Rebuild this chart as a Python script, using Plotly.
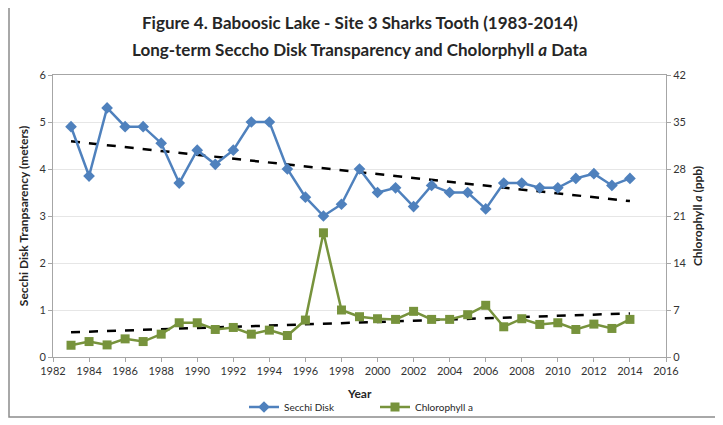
import plotly.graph_objects as go
import numpy as np

years = list(range(1983, 2015))
secchi = [4.9, 3.85, 5.3, 4.9, 4.9, 4.55, 3.7, 4.4, 4.1, 4.4, 5.0, 5.0, 4.0, 3.4, 3.0, 3.25,
          4.0, 3.5, 3.6, 3.2, 3.65, 3.5, 3.5, 3.15, 3.7, 3.7, 3.6, 3.6, 3.8, 3.9, 3.65, 3.8]
chlorophyll = [1.75, 2.3, 1.8, 2.7, 2.3, 3.4, 5.1, 5.1, 4.1, 4.4, 3.4, 4.0, 3.2, 5.5, 18.5, 7.0,
               6.0, 5.7, 5.6, 6.8, 5.6, 5.6, 6.3, 7.7, 4.5, 5.7, 4.85, 5.1, 4.1, 4.9, 4.25, 5.6]

title_lines = ['Figure 4. Baboosic Lake - Site 3 Sharks Tooth (1983-2014)',
               'Long-term Seccho Disk Transparency and Cholorphyll <i>a</i> Data']

blue = '#4F81BD'
green = '#77933C'
font = 'Lato'

# linear trendlines like Excel
s_fit = np.polyfit(years, secchi, 1)
c_fit = np.polyfit(years, chlorophyll, 1)
s_trend = np.polyval(s_fit, years)
c_trend = np.polyval(c_fit, years)

fig = go.Figure()
fig.add_trace(go.Scatter(x=years, y=s_trend, mode='lines', showlegend=False,
                         line=dict(color='black', width=2.5, dash='dash'), yaxis='y'))
fig.add_trace(go.Scatter(x=years, y=c_trend, mode='lines', showlegend=False,
                         line=dict(color='black', width=2.5, dash='dash'), yaxis='y2'))
fig.add_trace(go.Scatter(name='Secchi Disk', x=years, y=secchi, mode='lines+markers',
                         line=dict(color=blue, width=2.5),
                         marker=dict(symbol='diamond', size=9, color=blue), yaxis='y'))
fig.add_trace(go.Scatter(name='Chlorophyll a', x=years, y=chlorophyll, mode='lines+markers',
                         line=dict(color=green, width=2.5),
                         marker=dict(symbol='square', size=9, color=green), yaxis='y2'))

# page body has an 8px margin, so the figure is 8px smaller and offset
W, H = 715, 417
axis_line = '#A6A6A6'
fig.update_layout(
    width=W, height=H,
    margin=dict(l=45, r=57, t=67, b=68, autoexpand=False),
    paper_bgcolor='white', plot_bgcolor='white',
    font=dict(family=font, size=11, color='#333333'),
    xaxis=dict(range=[1982, 2016], dtick=2, tick0=1982, showgrid=False, zeroline=False,
               showline=True, linecolor=axis_line, mirror=True,
               ticks='outside', ticklen=4, tickcolor=axis_line),
    yaxis=dict(range=[0, 6], dtick=1, showgrid=True, gridcolor='#E6E6E6', zeroline=False,
               showline=True, linecolor=axis_line, mirror=True,
               ticks='outside', ticklen=4, tickcolor=axis_line,
               title=dict(text='<b>Secchi Disk Tranpsarency (meters)</b>',
                          font=dict(size=12, color='#262626'), standoff=8)),
    yaxis2=dict(range=[0, 42], dtick=7, overlaying='y', side='right', showgrid=False,
                zeroline=False, showline=True, linecolor=axis_line,
                ticks='outside', ticklen=4, tickcolor=axis_line,
                title=dict(text='<b>Chlorophyll <i>a</i> (ppb)</b>',
                           font=dict(size=12, color='#262626'), standoff=8)),
    legend=dict(orientation='h', x=(236 - 45) / 613, xanchor='left', yref='container',
                y=(H - 399) / H, yanchor='middle', entrywidth=86, entrywidthmode='pixels',
                font=dict(size=10, color='#262626'), itemwidth=30,
                bgcolor='rgba(0,0,0,0)'),
)

# x axis title
fig.add_annotation(text='<b>Year</b>', xref='paper', yref='paper', x=0.5,
                   y=(349 - 385) / 282, showarrow=False, xanchor='center', yanchor='middle',
                   font=dict(family=font, size=12, color='#262626'))

# two-line title as annotations (plot area spans 67..349 px in figure)
for i, line in enumerate(title_lines):
    fig.add_annotation(text='<b>' + line + '</b>', xref='paper', yref='paper',
                       x=0.5, y=(349 - (14 + 28 * i)) / 282, showarrow=False,
                       xanchor='center', yanchor='middle',
                       font=dict(family=font, size=17, color='#262626'))

# outer chart border
fig.add_shape(type='rect', xref='paper', yref='paper',
              x0=(1 - 45) / 613, x1=(714 - 45) / 613,
              y0=(349 - 409) / 282, y1=(349 + 66) / 282,
              line=dict(color='#8C8C8C', width=1.5))

fig.write_html('out.html')
